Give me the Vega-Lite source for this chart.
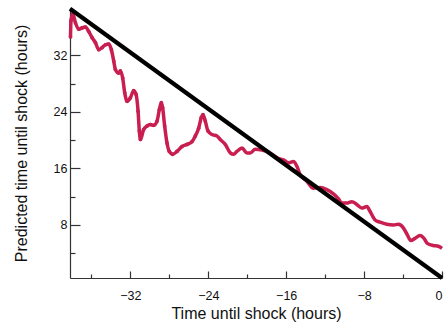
{
  "$schema": "https://vega.github.io/schema/vega-lite/v6.json",
  "width": 372,
  "height": 270,
  "autosize": {"type": "none"},
  "padding": {"left": 70, "top": 8, "right": 2, "bottom": 49},
  "background": "white",
  "config": {
    "view": {"stroke": null},
    "axis": {
      "labelFont": "Liberation Sans",
      "titleFont": "Liberation Sans",
      "labelFontSize": 12.5,
      "titleFontSize": 16,
      "titleFontWeight": "normal",
      "labelColor": "#111",
      "titleColor": "#111",
      "domainColor": "#333",
      "tickColor": "#333",
      "domainWidth": 1.2,
      "tickWidth": 1.2,
      "grid": false
    }
  },
  "datasets": {
    "diag": [
      {"t": -38.2, "p": 38.6},
      {"t": 0, "p": 0.5}
    ],
    "pred": [
      {"t": -38.15, "p": 34.6},
      {"t": -38.1, "p": 36.9},
      {"t": -37.92, "p": 37.9},
      {"t": -37.64, "p": 36.6},
      {"t": -37.3, "p": 35.7},
      {"t": -36.95, "p": 35.9},
      {"t": -36.62, "p": 36.0},
      {"t": -36.28, "p": 35.4},
      {"t": -35.93, "p": 34.5},
      {"t": -35.59, "p": 33.8},
      {"t": -35.25, "p": 32.8},
      {"t": -34.9, "p": 33.1},
      {"t": -34.56, "p": 33.5},
      {"t": -34.23, "p": 33.6},
      {"t": -33.95, "p": 32.8},
      {"t": -33.71, "p": 31.2},
      {"t": -33.54, "p": 30.0},
      {"t": -33.2, "p": 29.5},
      {"t": -33.03, "p": 29.8},
      {"t": -32.79, "p": 28.8},
      {"t": -32.58, "p": 26.7},
      {"t": -32.34, "p": 25.5},
      {"t": -32.0, "p": 26.0},
      {"t": -31.66, "p": 27.0},
      {"t": -31.42, "p": 26.5},
      {"t": -31.21, "p": 24.1},
      {"t": -31.08, "p": 21.3},
      {"t": -30.97, "p": 20.1},
      {"t": -30.64, "p": 21.5},
      {"t": -30.29, "p": 22.0},
      {"t": -29.95, "p": 22.2},
      {"t": -29.61, "p": 22.1},
      {"t": -29.26, "p": 22.7},
      {"t": -29.03, "p": 24.3},
      {"t": -28.82, "p": 25.3},
      {"t": -28.69, "p": 24.6},
      {"t": -28.48, "p": 22.0},
      {"t": -28.24, "p": 19.6},
      {"t": -28.0, "p": 18.4},
      {"t": -27.66, "p": 18.0},
      {"t": -27.21, "p": 18.4},
      {"t": -26.7, "p": 19.1},
      {"t": -26.18, "p": 19.4},
      {"t": -25.67, "p": 19.8},
      {"t": -25.33, "p": 20.6},
      {"t": -24.99, "p": 21.7},
      {"t": -24.72, "p": 23.2},
      {"t": -24.54, "p": 23.6},
      {"t": -24.31, "p": 22.7},
      {"t": -24.03, "p": 21.3},
      {"t": -23.62, "p": 20.8},
      {"t": -23.11, "p": 20.6},
      {"t": -22.77, "p": 20.1},
      {"t": -22.26, "p": 19.4},
      {"t": -21.74, "p": 18.2},
      {"t": -21.4, "p": 18.0},
      {"t": -21.06, "p": 18.4},
      {"t": -20.54, "p": 18.9},
      {"t": -20.03, "p": 18.2},
      {"t": -19.69, "p": 18.2},
      {"t": -19.18, "p": 18.7},
      {"t": -18.49, "p": 18.6},
      {"t": -17.98, "p": 18.4},
      {"t": -17.47, "p": 18.0},
      {"t": -16.79, "p": 17.4},
      {"t": -16.28, "p": 17.2},
      {"t": -15.76, "p": 16.8},
      {"t": -15.25, "p": 17.0},
      {"t": -14.9, "p": 16.3},
      {"t": -14.56, "p": 15.1},
      {"t": -13.88, "p": 14.2},
      {"t": -13.2, "p": 13.2},
      {"t": -12.51, "p": 13.3},
      {"t": -11.83, "p": 13.0},
      {"t": -11.15, "p": 12.4},
      {"t": -10.63, "p": 11.7},
      {"t": -10.29, "p": 11.1},
      {"t": -9.77, "p": 11.1},
      {"t": -9.26, "p": 11.3},
      {"t": -8.75, "p": 10.9},
      {"t": -8.24, "p": 10.4},
      {"t": -7.72, "p": 10.6},
      {"t": -7.38, "p": 9.9},
      {"t": -6.87, "p": 8.7},
      {"t": -6.36, "p": 8.4},
      {"t": -5.67, "p": 8.1},
      {"t": -4.99, "p": 8.0},
      {"t": -4.48, "p": 8.1},
      {"t": -3.97, "p": 7.6},
      {"t": -3.56, "p": 6.6},
      {"t": -3.21, "p": 5.8},
      {"t": -2.77, "p": 6.1},
      {"t": -2.26, "p": 6.5},
      {"t": -1.85, "p": 6.1},
      {"t": -1.51, "p": 5.4},
      {"t": -0.89, "p": 5.1},
      {"t": -0.38, "p": 5.0},
      {"t": 0, "p": 4.7}
    ]
  },
  "layer": [
    {
      "data": {"name": "pred"},
      "mark": {"type": "line", "color": "#c81e50", "strokeWidth": 3.5, "interpolate": "monotone"},
      "encoding": {
        "x": {
          "field": "t", "type": "quantitative",
          "scale": {"domain": [-38.2, 0], "nice": false, "zero": false},
          "axis": {
            "orient": "bottom",
            "values": [-32, -24, -16, -8, 0],
            "tickSize": -7,
            "labelPadding": 18,
            "labelFlush": true,
            "title": "Time until shock (hours)",
            "titlePadding": 4
          }
        },
        "y": {
          "field": "p", "type": "quantitative",
          "scale": {"domain": [0.5, 38.7], "nice": false, "zero": false},
          "axis": {
            "orient": "left",
            "values": [8, 16, 24, 32],
            "tickSize": -10,
            "labelPadding": 13,
            "title": "Predicted time until shock (hours)",
            "titlePadding": 24
          }
        }
      }
    },
    {
      "data": {"name": "pred"},
      "transform": [{"filter": "datum.t < -24"}],
      "mark": {"type": "point", "filled": true, "color": "#c81e50", "size": 14, "opacity": 1},
      "encoding": {
        "x": {"field": "t", "type": "quantitative", "axis": {"orient": "bottom", "values": [-36, -28, -20, -12, -4], "tickSize": -4, "labels": false, "domain": false, "title": null}},
        "y": {"field": "p", "type": "quantitative", "axis": {"orient": "left", "values": [4, 12, 20, 28], "tickSize": -5, "labels": false, "domain": false, "title": null}}
      }
    },
    {
      "data": {"name": "diag"},
      "mark": {"type": "line", "color": "#000000", "strokeWidth": 4.2},
      "encoding": {
        "x": {"field": "t", "type": "quantitative", "axis": null},
        "y": {"field": "p", "type": "quantitative", "axis": null}
      }
    }
  ],
  "resolve": {"axis": {"x": "independent", "y": "independent"}}
}
